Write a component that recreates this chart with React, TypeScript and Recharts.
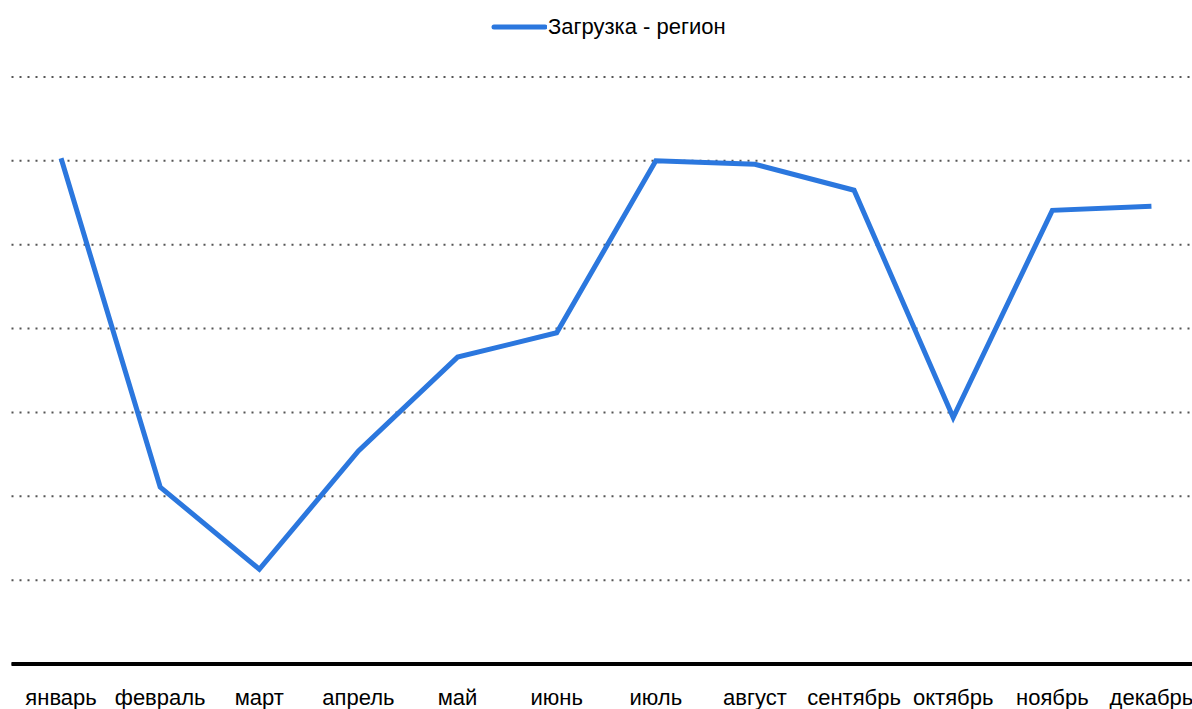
import { CartesianGrid, Line, LineChart, XAxis, YAxis } from "recharts"

const months = ["январь", "февраль", "март", "апрель", "май", "июнь", "июль", "август", "сентябрь", "октябрь", "ноябрь", "декабрь"]
const load = [6.03, 2.11, 1.13, 2.54, 3.66, 3.95, 6.0, 5.96, 5.65, 2.94, 5.41, 5.46]
const yTicks = [0, 1, 2, 3, 4, 5, 6, 7]

const SERIES = "Загрузка - регион"
const BLUE = "#2b77de"
const FONT = "'Liberation Sans', Arial, sans-serif"

const data = months.map((m, i) => ({ month: m, value: load[i] }))

export default function App() {
    return (
        <div style={{ position: "fixed", left: 0, top: 0, width: 1192, height: 709, overflow: "hidden", background: "#fff" }}>
            <div style={{ position: "absolute", left: 491, top: 14, display: "flex", alignItems: "center", zIndex: 1 }}>
                <svg width={56} height={8}>
                    <line x1={3} y1={4} x2={54} y2={4} stroke={BLUE} strokeWidth={5} strokeLinecap="round" />
                </svg>
                <span style={{ fontFamily: FONT, fontSize: 22, color: "#000", marginLeft: 1 }}>{SERIES}</span>
            </div>
            <LineChart
                width={1201}
                height={709}
                data={data}
                margin={{ top: 77, right: 0, left: 11.5, bottom: 0 }}
                style={{ fontFamily: FONT }}
            >
                <CartesianGrid vertical={false} stroke="#555" strokeDasharray="2 6" strokeWidth={2} />
                <XAxis
                    dataKey="month"
                    scale="band"
                    axisLine={{ stroke: "#000", strokeWidth: 4 }}
                    tickLine={false}
                    tick={{ fill: "#000", fontSize: 22, fontFamily: FONT }}
                    tickMargin={19}
                    interval={0}
                    height={45}
                />
                <YAxis hide domain={[0, 7]} ticks={yTicks} />
                <Line
                    type="linear"
                    dataKey="value"
                    name={SERIES}
                    stroke={BLUE}
                    strokeWidth={5}
                    dot={false}
                    activeDot={false}
                    isAnimationActive={false}
                />
            </LineChart>
        </div>
    )
}
